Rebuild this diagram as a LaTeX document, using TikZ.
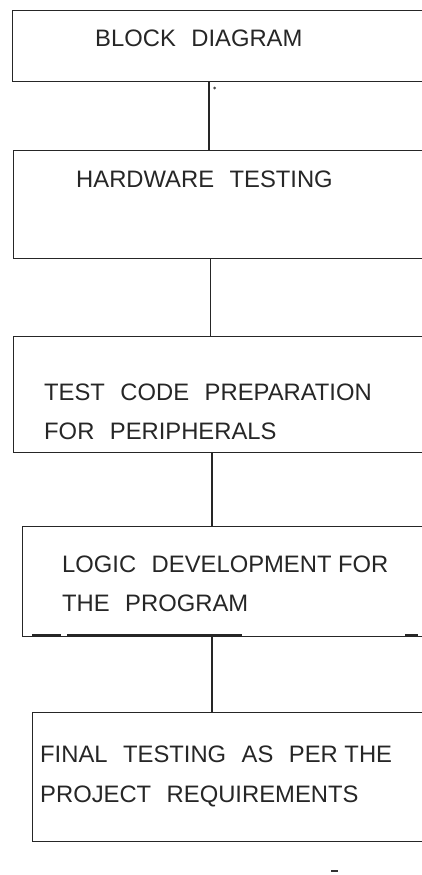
\documentclass[tikz,border=0pt]{standalone}
\usepackage{fontspec}
\setmainfont{Liberation Sans}
\tikzset{
  box/.style={draw=black!85, line width=1.4pt, rectangle, anchor=north west, minimum width=428pt, inner sep=0pt},
  lbl/.style={anchor=base west, inner sep=0pt, text=black!85, font=\fontsize{23.8}{28}\selectfont},
  link/.style={draw=black!85, line width=1.4pt}
}
\newcommand{\wgap}{\hspace{0.65em}}
\begin{document}
\begin{tikzpicture}[x=1pt,y=-1pt]
\useasboundingbox (0,0) rectangle (422,875);
\clip (0,0) rectangle (422,875);
% boxes (open to the right)
\node[box, minimum height=71pt] (b1) at (12,10) {};
\node[box, minimum height=108pt] (b2) at (13,150) {};
\node[box, minimum height=116pt] (b3) at (13,336) {};
\node[box, minimum height=110pt] (b4) at (22,526) {};
\node[box, minimum height=129pt] (b5) at (32,712) {};
% labels
\node[lbl] (t1) at (95,47) {BLOCK\wgap DIAGRAM};
\node[lbl] (t2) at (76,187) {HARDWARE\wgap TESTING};
\node[lbl] (t3a) at (44,400) {TEST\wgap CODE\wgap PREPARATION};
\node[lbl] (t3b) at (44,439) {FOR\wgap PERIPHERALS};
\node[lbl] (t4a) at (62,572) {LOGIC\wgap DEVELOPMENT FOR};
\node[lbl] (t4b) at (62,611) {THE\wgap PROGRAM};
\node[lbl] (t5a) at (40,762) {FINAL\wgap TESTING\wgap AS\wgap PER THE};
\node[lbl] (t5b) at (40,802) {PROJECT\wgap REQUIREMENTS};
% connectors
\coordinate (l1) at (209,0);
\coordinate (l2) at (210.5,0);
\coordinate (l3) at (212,0);
\draw[link] (b1.south -| l1) -- (b2.north -| l1);
\draw[link] (b2.south -| l2) -- (b3.north -| l2);
\draw[link] (b3.south -| l3) -- (b4.north -| l3);
\draw[link] (b4.south -| l3) -- (b5.north -| l3);
% stray marks
\draw[fill=black!70, draw=none] (214.5,88) circle (1.5);
\draw[line width=2.2pt, black!85] (32,635.5) -- (61,635.5);
\draw[line width=2.2pt, black!85] (67,635.5) -- (242,635.5);
\draw[line width=2.2pt, black!85] (405,635.5) -- (418,635.5);
\draw[line width=1.6pt, black!80] (331,871) -- (338,871);
\end{tikzpicture}
\end{document}
